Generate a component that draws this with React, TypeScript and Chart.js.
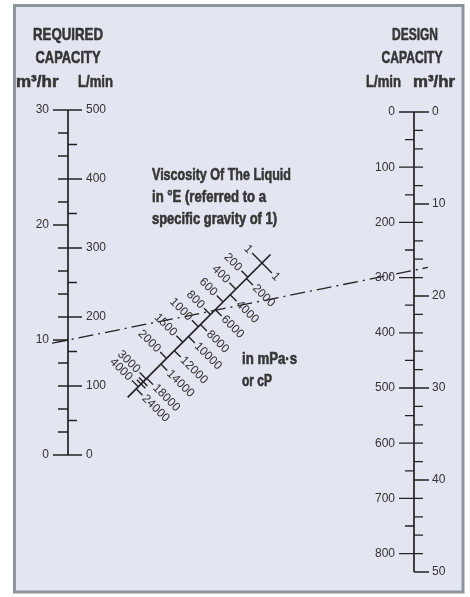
import React, { useEffect, useRef } from "react";
import { Chart, registerables } from "chart.js";
Chart.register(...registerables);

// ---------------- DATA ----------------
// Required capacity (left scale)
const requiredM3Ticks = [0, 2, 4, 6, 8, 10, 12, 14, 16, 18, 20, 22, 24, 26, 28, 30];
const requiredM3Labels = [0, 10, 20, 30];
const requiredLminTicks = [0, 50, 100, 150, 200, 250, 300, 350, 400, 450, 500];
const requiredLminLabels = [0, 100, 200, 300, 400, 500];
// Design capacity (right scale)
const designM3Ticks = [0, 2, 4, 6, 8, 10, 12, 14, 16, 18, 20, 22, 24, 26, 28, 30, 32, 34, 36, 38, 40, 42, 44, 46, 48, 50];
const designM3Labels = [0, 10, 20, 30, 40, 50];
const designLminTicks = [0, 50, 100, 150, 200, 250, 300, 350, 400, 450, 500, 550, 600, 650, 700, 750, 800];
const designLminLabels = [0, 100, 200, 300, 400, 500, 600, 700, 800];
// Viscosity scale (readings along the scale, in scale units from the "1" mark)
const viscEnglerLabels = ["1", "200", "400", "600", "800", "1000", "1500", "2000", "3000", "4000"];
const viscEnglerReadings = [0, 20, 37, 55, 73, 90, 112, 135, 164, 175];
const viscMpasLabels = ["1", "2000", "4000", "6000", "8000", "10000", "12000", "14000", "18000", "24000"];
const viscMpasReadings = [0, 22, 45, 66, 87, 104, 124, 143, 163, 178];
const viscMinorReadings = [168, 171];
// Example isopleth
const exampleRequiredM3 = 10;
const exampleDesignM3 = 17.2;

const LMIN_TO_M3H = 60 / 1000;

// ---------------- LAYOUT ----------------
const W = 470;
const H = 597;
const LX = 68; // left scale position
const RX = 414; // right scale position
const VISC_ORIGIN = { x: 262, y: 263 };
const VISC_EXTENT = [-12, 190];
const FRAME = { l: 14.5, t: 5.5, r: 463, b: 592 };
const BG = "#e3e5f1";
const BORDER = "#8d949b";
const INK = "#222222";
const TXT = "#333333";
const HEAD = "#363636";
const NUM_FONT = '12px "Liberation Sans", Arial, sans-serif';
const HEAD_FONT = 'bold 17px "Liberation Sans", Arial, sans-serif';
const BODY_FONT = 'bold 16px "Liberation Sans", Arial, sans-serif';

function anchored(v0: number, p0: number, v1: number, p1: number, reverse: boolean) {
  const span = (Math.abs(v1 - v0) * H) / Math.abs(p1 - p0);
  if (!reverse) {
    const max = v0 + (p0 / H) * span;
    return { min: max - span, max };
  }
  const min = v0 - (p0 / H) * span;
  return { min, max: min + span };
}
const yLRange = anchored(0, 455, 30, 110, false);
const yRRange = anchored(0, 112, 50, 572, true);

const S2 = Math.SQRT1_2;
function viscPoint(s: number, n = 0) {
  return { x: VISC_ORIGIN.x - s * S2 + n * S2, y: VISC_ORIGIN.y + s * S2 + n * S2 };
}

function tickSegments(values: number[], conv: number, x0: (v: number) => number, x1: number) {
  const pts: any[] = [];
  values.forEach((v) => {
    pts.push({ x: x0(v), y: v * conv }, { x: x1, y: v * conv }, { x: null, y: null });
  });
  return pts;
}

function buildDatasets() {
  const line = (data: any[], yAxisID: string, width = 1.3) => ({
    data,
    yAxisID,
    xAxisID: "x",
    showLine: true,
    borderColor: INK,
    borderWidth: width,
    pointRadius: 0,
    spanGaps: false,
  });
  const ds: any[] = [];
  ds.push(line([{ x: LX, y: 0 }, { x: LX, y: 30 }], "yL", 1.7));
  ds.push(line(tickSegments(requiredM3Ticks, 1, (v) => (requiredM3Labels.includes(v) ? LX - 15 : LX - 10), LX), "yL"));
  ds.push(line(tickSegments(requiredLminTicks, LMIN_TO_M3H, (v) => (requiredLminLabels.includes(v) ? LX + 14 : LX + 9), LX), "yL"));
  ds.push(line([{ x: RX, y: 0 }, { x: RX, y: 50 }], "yR", 1.7));
  ds.push(line(tickSegments(designM3Ticks, 1, (v) => (designM3Labels.includes(v) ? RX + 15 : RX + 9), RX), "yR"));
  ds.push(line(tickSegments(designLminTicks, LMIN_TO_M3H, (v) => (designLminLabels.includes(v) ? RX - 15 : RX - 9), RX), "yR"));
  const a = viscPoint(VISC_EXTENT[0]);
  const b = viscPoint(VISC_EXTENT[1]);
  ds.push(line([a, b], "y", 1.7));
  const vt: any[] = [];
  viscEnglerReadings.forEach((s, i) => {
    const len = i === 0 ? 14 : 9;
    vt.push(viscPoint(s, -len), viscPoint(s, 0), { x: null, y: null });
  });
  viscMpasReadings.forEach((s, i) => {
    const len = i === 0 ? 14 : 9;
    vt.push(viscPoint(s, 0), viscPoint(s, len), { x: null, y: null });
  });
  viscMinorReadings.forEach((s) => {
    vt.push(viscPoint(s, -6), viscPoint(s, 6), { x: null, y: null });
  });
  ds.push(line(vt, "y", 1.4));
  return ds;
}

const nomoPlugin = {
  id: "nomo",
  beforeDraw(chart: any) {
    const { ctx } = chart;
    const x = chart.scales.x;
    const y = chart.scales.y;
    ctx.save();
    ctx.fillStyle = "#ffffff";
    ctx.fillRect(0, 0, chart.width, chart.height);
    const l = x.getPixelForValue(FRAME.l);
    const t = y.getPixelForValue(FRAME.t);
    const r = x.getPixelForValue(FRAME.r);
    const b = y.getPixelForValue(FRAME.b);
    ctx.fillStyle = BG;
    ctx.fillRect(l, t, r - l, b - t);
    ctx.strokeStyle = BORDER;
    ctx.lineWidth = 3;
    ctx.strokeRect(l, t, r - l, b - t);
    ctx.restore();
  },
  afterDatasetsDraw(chart: any) {
    const { ctx } = chart;
    const x = chart.scales.x;
    const y = chart.scales.y;
    const yL = chart.scales.yL;
    const yR = chart.scales.yR;
    const txt = (s: string, px: number, py: number, align: CanvasTextAlign, font: string, color: string, maxW?: number, heavy = false) => {
      ctx.font = font;
      ctx.fillStyle = color;
      ctx.textAlign = align;
      ctx.textBaseline = "middle";
      if (maxW) ctx.fillText(s, px, py, maxW);
      else ctx.fillText(s, px, py);
      if (heavy) {
        ctx.strokeStyle = color;
        ctx.lineWidth = 0.6;
        ctx.lineJoin = "round";
        if (maxW) ctx.strokeText(s, px, py, maxW);
        else ctx.strokeText(s, px, py);
      }
    };
    ctx.save();
    // isopleth
    const p1 = { x: x.getPixelForValue(LX), y: yL.getPixelForValue(exampleRequiredM3) };
    const p2 = { x: x.getPixelForValue(RX), y: yR.getPixelForValue(exampleDesignM3) };
    const dx = p2.x - p1.x;
    const dy = p2.y - p1.y;
    const e0 = -0.046;
    const e1 = 1.04;
    ctx.beginPath();
    ctx.setLineDash([15, 5, 2, 5]);
    ctx.strokeStyle = INK;
    ctx.lineWidth = 1.3;
    ctx.moveTo(p1.x + dx * e0, p1.y + dy * e0);
    ctx.lineTo(p1.x + dx * e1, p1.y + dy * e1);
    ctx.stroke();
    ctx.setLineDash([]);

    const hx = (v: number) => x.getPixelForValue(v);
    const hy = (v: number) => y.getPixelForValue(v);
    // headers
    txt("REQUIRED", hx(68), hy(35), "center", HEAD_FONT, HEAD, 70, true);
    txt("CAPACITY", hx(68), hy(58), "center", HEAD_FONT, HEAD, 65, true);
    txt("m³/hr", hx(16), hy(82), "left", HEAD_FONT, HEAD, 44, true);
    txt("L/min", hx(78), hy(82), "left", HEAD_FONT, HEAD, 35, true);
    txt("DESIGN", hx(415), hy(35), "center", HEAD_FONT, HEAD, 46, true);
    txt("CAPACITY", hx(412), hy(58), "center", HEAD_FONT, HEAD, 61, true);
    txt("L/min", hx(366), hy(82), "left", HEAD_FONT, HEAD, 35, true);
    txt("m³/hr", hx(413), hy(82), "left", HEAD_FONT, HEAD, 42, true);

    // axis labels
    requiredM3Labels.forEach((v) => txt(String(v), hx(LX - 19), yL.getPixelForValue(v), "right", NUM_FONT, TXT));
    requiredLminLabels.forEach((v) => txt(String(v), hx(LX + 18), yL.getPixelForValue(v * LMIN_TO_M3H), "left", NUM_FONT, TXT));
    designLminLabels.forEach((v) => txt(String(v), hx(RX - 19), yR.getPixelForValue(v * LMIN_TO_M3H), "right", NUM_FONT, TXT));
    designM3Labels.forEach((v) => txt(String(v), hx(RX + 18), yR.getPixelForValue(v), "left", NUM_FONT, TXT));

    // viscosity labels (rotated)
    const rot = (s: string, p: { x: number; y: number }, align: CanvasTextAlign) => {
      ctx.save();
      ctx.translate(hx(p.x), hy(p.y));
      ctx.rotate(Math.PI / 4);
      txt(s, 0, 0, align, NUM_FONT, TXT);
      ctx.restore();
    };
    viscEnglerLabels.forEach((s, i) => {
      const len = i === 0 ? 14 : 9;
      rot(s, viscPoint(viscEnglerReadings[i], -len - 2), "right");
    });
    viscMpasLabels.forEach((s, i) => {
      const len = i === 0 ? 14 : 9;
      rot(s, viscPoint(viscMpasReadings[i], len + 2), "left");
    });

    // descriptive text
    txt("Viscosity Of The Liquid", hx(152), hy(176), "left", BODY_FONT, HEAD, 139, true);
    txt("in °E (referred to a", hx(152), hy(198), "left", BODY_FONT, HEAD, 114, true);
    txt("specific gravity of 1)", hx(152), hy(220), "left", BODY_FONT, HEAD, 125, true);
    txt("in mPa·s", hx(242), hy(360), "left", BODY_FONT, HEAD, 55, true);
    txt("or cP", hx(242), hy(382), "left", BODY_FONT, HEAD, 30, true);
    ctx.restore();
  },
};

export default function App() {
  const ref = useRef<HTMLCanvasElement>(null);
  useEffect(() => {
    document.body.style.margin = "0";
    const chart = new Chart(ref.current as HTMLCanvasElement, {
      type: "scatter",
      data: { datasets: buildDatasets() },
      options: {
        responsive: false,
        animation: false,
        events: [],
        layout: { padding: 0 },
        plugins: { legend: { display: false }, tooltip: { enabled: false }, title: { display: false } },
        scales: {
          x: { type: "linear", min: 0, max: W, display: false },
          y: { type: "linear", min: 0, max: H, reverse: true, display: false },
          yL: { type: "linear", axis: "y", min: yLRange.min, max: yLRange.max, display: false },
          yR: { type: "linear", axis: "y", min: yRRange.min, max: yRRange.max, reverse: true, display: false },
        },
      } as any,
      plugins: [nomoPlugin],
    });
    return () => chart.destroy();
  }, []);
  return (
    <div style={{ position: "fixed", left: 0, top: 0, width: W, height: H }}>
      <canvas ref={ref} width={W} height={H} style={{ display: "block" }} />
    </div>
  );
}
